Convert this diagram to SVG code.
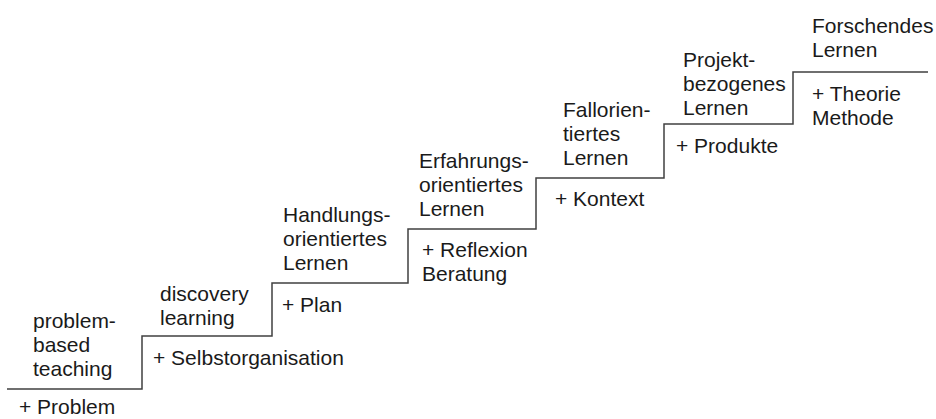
<svg xmlns="http://www.w3.org/2000/svg" width="936" height="419" viewBox="0 0 936 419">
<style>
text{font-family:"Liberation Sans",Arial,sans-serif;font-size:21px;fill:#1a1a1a}
.stair{fill:none;stroke:#404040;stroke-width:1.5}
</style>
<rect width="936" height="419" fill="#ffffff"/>
<g id="connectors">
<path class="stair" d="M7,389 H142 V336 H272 V283 H408 V229 H536 V178 H664 V124 H793 V72 H928"/>
</g>
<g id="step1">
<text x="33" y="328">problem-</text>
<text x="33" y="352">based</text>
<text x="33" y="376">teaching</text>
<text x="19" y="414">+ Problem</text>
</g>
<g id="step2">
<text x="160" y="301">discovery</text>
<text x="160" y="325">learning</text>
<text x="153" y="365">+ Selbstorganisation</text>
</g>
<g id="step3">
<text x="283" y="222">Handlungs-</text>
<text x="283" y="246">orientiertes</text>
<text x="283" y="270">Lernen</text>
<text x="282" y="312">+ Plan</text>
</g>
<g id="step4">
<text x="419" y="168">Erfahrungs-</text>
<text x="419" y="192">orientiertes</text>
<text x="419" y="216">Lernen</text>
<text x="422" y="257">+ Reflexion</text>
<text x="422" y="281">Beratung</text>
</g>
<g id="step5">
<text x="563" y="117">Fallorien-</text>
<text x="563" y="141">tiertes</text>
<text x="563" y="165">Lernen</text>
<text x="555" y="206">+ Kontext</text>
</g>
<g id="step6">
<text x="683" y="67">Projekt-</text>
<text x="683" y="91">bezogenes</text>
<text x="683" y="115">Lernen</text>
<text x="676" y="153">+ Produkte</text>
</g>
<g id="step7">
<text x="812" y="33">Forschendes</text>
<text x="812" y="57">Lernen</text>
<text x="812" y="101">+ Theorie</text>
<text x="812" y="125">Methode</text>
</g>
</svg>
